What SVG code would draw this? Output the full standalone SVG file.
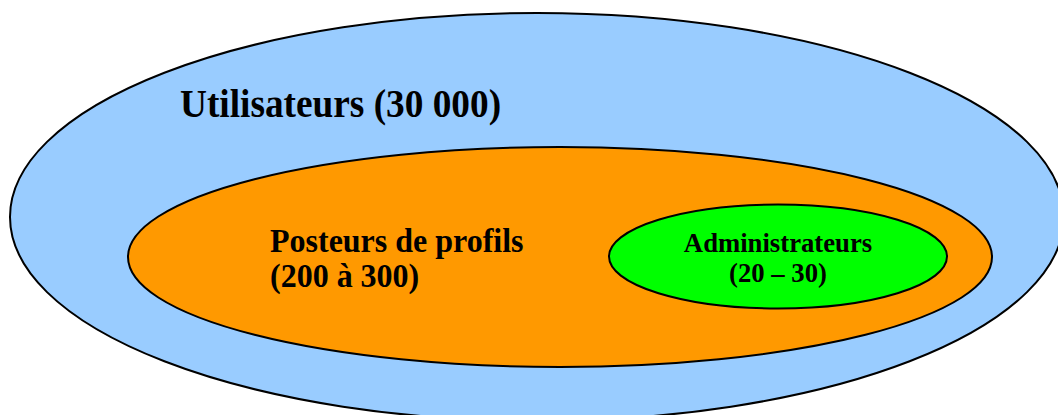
<svg xmlns="http://www.w3.org/2000/svg" width="1058" height="415" viewBox="0 0 1058 415">
<style>
.e{stroke:#000;stroke-width:2}
.t{font-family:"Liberation Serif","Times New Roman",serif;font-weight:bold;fill:#000}
</style>
<rect width="1058" height="415" fill="#fff"/>
<g id="utilisateurs">
<ellipse class="e" cx="537" cy="217" rx="527" ry="204" fill="#99ccff"/>
<text class="t" transform="translate(180,117) scale(1,1.05)" font-size="37.3">Utilisateurs (30 000)</text>
</g>
<g id="posteurs">
<ellipse class="e" cx="560" cy="257" rx="432" ry="110" fill="#ff9900"/>
<text class="t" transform="translate(270,252) scale(1,1.05)" font-size="32">Posteurs de profils</text>
<text class="t" transform="translate(270,287) scale(1,1.05)" font-size="32">(200 à 300)</text>
</g>
<g id="administrateurs">
<ellipse class="e" cx="778" cy="256.5" rx="169" ry="52" fill="#00ff00"/>
<text class="t" transform="translate(778,252) scale(1,1.05)" font-size="26.7" text-anchor="middle">Administrateurs</text>
<text class="t" transform="translate(778,282) scale(1,1.05)" font-size="26.7" text-anchor="middle">(20 – 30)</text>
</g>
<g id="connectors"/>
</svg>
